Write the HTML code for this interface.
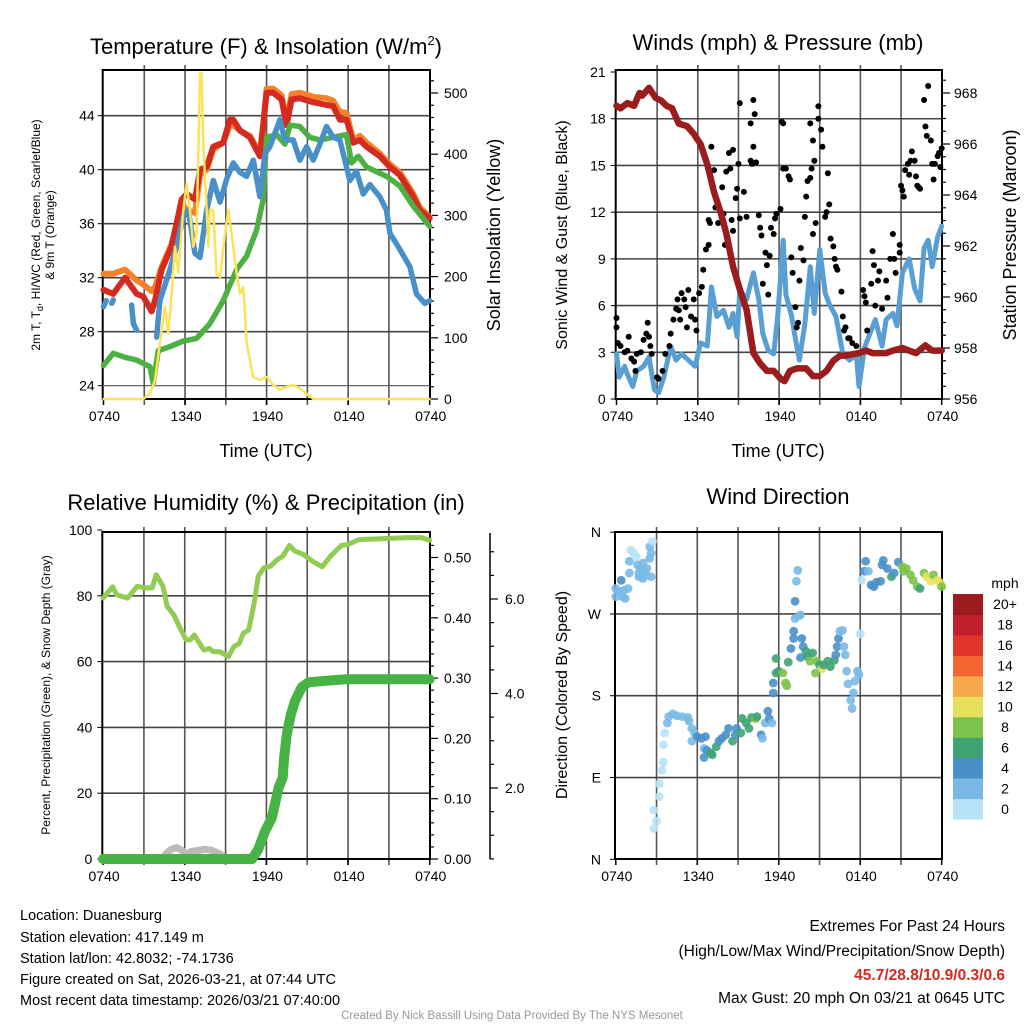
<!DOCTYPE html>
<html><head><meta charset="utf-8"><style>
html,body{margin:0;padding:0;background:#fff}
svg{display:block;font-family:"Liberation Sans",Arial,sans-serif}
</style></head><body>
<svg id="chart" width="1024" height="1024" viewBox="0 0 1024 1024" xmlns="http://www.w3.org/2000/svg">
<rect width="1024" height="1024" fill="#fff"/>
<g id="layer"></g>
<text x="266" y="54" font-size="22" text-anchor="middle">Temperature (F) &amp; Insolation (W/m<tspan font-size="13" dy="-9">2</tspan><tspan dy="9">)</tspan></text>
<text x="778" y="50" font-size="22" text-anchor="middle">Winds (mph) &amp; Pressure (mb)</text>
<text x="266" y="510" font-size="22" text-anchor="middle">Relative Humidity (%) &amp; Precipitation (in)</text>
<text x="778" y="504" font-size="22" text-anchor="middle">Wind Direction</text>
<text x="266" y="457" font-size="18" text-anchor="middle">Time (UTC)</text>
<text x="778" y="457" font-size="18" text-anchor="middle">Time (UTC)</text>
<text transform="translate(40,235) rotate(-90)" font-size="12" text-anchor="middle">2m T, T<tspan font-size="9" dy="3">d</tspan><tspan dy="-3">, HI/WC (Red, Green, Scarlet/Blue)</tspan></text>
<text transform="translate(54,235) rotate(-90)" font-size="12" text-anchor="middle">&amp; 9m T (Orange)</text>
<text transform="translate(500,235) rotate(-90)" font-size="18" text-anchor="middle">Solar Insolation (Yellow)</text>
<text transform="translate(567,235) rotate(-90)" font-size="16" text-anchor="middle">Sonic Wind &amp; Gust (Blue, Black)</text>
<text transform="translate(1016,235) rotate(-90)" font-size="18" text-anchor="middle">Station Pressure (Maroon)</text>
<text transform="translate(50,695) rotate(-90)" font-size="12" text-anchor="middle">Percent, Precipitation (Green), &amp; Snow Depth (Gray)</text>
<text transform="translate(567,695) rotate(-90)" font-size="16" text-anchor="middle">Direction (Colored By Speed)</text>
<g font-size="14.5">
<text x="20" y="920">Location: Duanesburg</text>
<text x="20" y="942">Station elevation: 417.149 m</text>
<text x="20" y="963">Station lat/lon: 42.8032; -74.1736</text>
<text x="20" y="984">Figure created on Sat, 2026-03-21, at 07:44 UTC</text>
<text x="20" y="1005">Most recent data timestamp: 2026/03/21 07:40:00</text>
</g>
<g font-size="15.5" text-anchor="end">
<text x="1005" y="931">Extremes For Past 24 Hours</text>
<text x="1005" y="956">(High/Low/Max Wind/Precipitation/Snow Depth)</text>
<text x="1005" y="980" fill="#d42a20" font-weight="bold">45.7/28.8/10.9/0.3/0.6</text>
<text x="1005" y="1003">Max Gust: 20 mph On 03/21 at 0645 UTC</text>
</g>
<text x="512" y="1019" font-size="11.5" fill="#999" text-anchor="middle">Created By Nick Bassill Using Data Provided By The NYS Mesonet</text>
</svg>
<script>
// ---- Panel 1: temperature ----
const tRedH=[0,0.72,1.58,2.44,2.93,3.54,3.79,4.28,5.01,5.75,6.12,6.73,7.1,7.59,8.08,8.81,9.3,9.55,10.04,10.77,11.51,11.75,12,12.49,13.1,13.47,13.84,14.45,15.43,16.41,16.9,17.39,17.88,18.37,18.86,19.35,20.33,21.07,21.8,22.79,23.27,24];
const tRedV=[31.1,30.8,32.0,30.8,30.6,29.5,30.3,32.6,34.3,37.8,38.2,37.8,40.0,40.2,41.7,42.0,43.7,43.7,42.9,42.4,41.0,43.2,45.7,45.7,45.2,43.3,45.2,45.3,45.0,44.8,44.7,43.7,43.7,42.0,42.2,41.7,41.0,40.2,39.6,38.0,37.0,36.4];
const tOrangeV=[32.3,32.3,32.6,31.8,31.5,31.0,31.3,32.8,34.5,37.5,37.0,36.8,39.6,40.0,41.5,42.0,43.3,43.3,42.9,42.5,41.2,43.4,46.0,46.0,45.5,43.6,45.6,45.7,45.4,45.3,45.1,44.3,44.2,42.2,42.5,42.0,41.2,40.4,39.8,38.2,37.2,36.5];
const tGreenH=[0,0.72,1.58,2.44,3.42,3.66,4.03,4.89,5.87,6.85,7.83,8.81,9.79,10.53,11.26,11.75,12,12.73,13.35,13.72,14.45,15.18,15.92,16.9,17.88,18.25,18.74,19.35,20.82,21.8,22.79,24];
const tGreenV=[25.5,26.4,26.1,25.9,25.4,24.2,26.6,26.9,27.3,27.5,28.6,30.3,32.6,33.6,35.5,37.8,42.4,42.6,41.9,43.3,43.2,42.4,42.2,42.4,42.6,40.5,41.0,40.2,39.5,38.8,37.3,35.8];
const tBlueH=[0,0.2,null,0.6,0.72,null,2.07,2.2,2.44,null,3.91,4.15,4.89,5.38,5.87,6.24,6.73,7.1,7.59,8.08,8.57,9.06,9.55,10.04,10.53,11.02,11.51,11.88,12.24,12.98,13.35,13.96,14.45,14.94,15.43,15.92,16.41,16.9,17.39,18.12,18.61,19.11,19.6,20.33,20.82,21.07,21.8,22.54,23.03,23.64,24];
const tBlueV=[29.85,30.3,null,30.1,30.35,null,29.97,28.6,28.1,null,27.6,30.3,32.6,34.3,36.5,37.0,33.8,33.5,37.0,39.2,37.6,39.3,40.5,39.8,39.5,40.7,38.0,41.2,41.7,43.7,42.2,42.2,40.7,41.7,40.7,41.9,43.2,42.4,42.2,39.2,39.9,38.2,38.9,38.0,37.0,35.3,34.1,32.8,30.8,30.1,30.3];
const solarH=[0,2.93,3.42,3.79,4.15,4.52,4.77,5.01,5.26,5.5,5.87,6.12,6.36,6.61,6.85,7.1,7.22,7.34,7.59,7.71,7.83,8.08,8.32,8.57,8.93,9.18,9.42,9.79,10.04,10.29,10.53,11.02,11.51,12,12.49,12.98,13.47,13.96,14.45,14.94,15.43,24];
const solarV=[0,0,9,31,91,151,107,172,249,206,309,352,309,249,271,532,532,418,309,249,309,309,204,199,269,309,271,206,172,183,91,36,31,36,23,15,20,23,17,9,0,0];
const tempTicks=[24,28,32,36,40,44];
const solarTicks=[0,100,200,300,400,500];
const timeLabels=["0740","1340","1940","0140","0740"];
// ---- Panel 2: winds ----
const windH=[0,0.2,0.6,0.8,1.2,1.5,2.0,2.4,2.8,3.1,3.5,4.0,4.4,4.8,5.3,5.8,6.2,6.7,7.0,7.4,7.9,8.3,8.6,8.9,9.1,9.6,10.1,10.5,10.8,11.2,11.6,11.9,12.3,12.5,12.9,13.3,13.5,13.9,14.3,14.6,15.0,15.4,15.7,16.2,16.7,17.2,17.7,17.9,18.3,18.7,19.1,19.6,19.9,20.4,20.7,21.1,21.6,22.0,22.4,22.7,23.0,23.3,23.7,24.0];
const windV=[2.9,1.4,2.1,1.6,0.8,1.8,2.1,2.7,0.6,0.4,1.4,3.4,2.5,2.9,2.5,2.1,3.6,3.4,7.2,5.3,5.7,4.6,5.5,4.0,7.0,6.4,8.1,6.4,4.2,3.1,2.9,5.3,10.2,6.7,5.4,3.4,2.5,4.8,8.5,5.5,9.6,6.8,6.1,5.3,2.9,2.5,2.9,0.8,3.3,4.2,5.1,3.4,5.1,5.5,4.7,8.1,9.0,7.1,6.3,9.7,10.2,8.5,10.4,11.1];
const gustH=[0,0,0.1,0.3,0.6,0.8,0.9,1.1,1.3,1.4,1.5,1.8,2.0,2.2,2.3,2.4,2.5,2.6,3.0,3.1,3.4,3.6,3.9,4.0,4.2,4.4,4.5,4.6,4.7,4.8,5.0,5.1,5.2,5.3,5.5,5.7,5.8,5.9,6.1,6.3,6.4,6.6,6.8,6.8,6.9,7.0,7.2,7.3,7.5,7.8,7.9,8.0,8.1,8.3,8.4,8.5,8.6,8.6,8.8,8.9,9.0,9.1,9.1,9.4,9.6,9.9,9.9,10.0,10.1,10.1,10.2,10.3,10.5,10.6,10.7,10.8,11.0,11.1,11.2,11.3,11.4,11.6,11.7,11.8,12.1,12.2,12.3,12.3,12.5,12.7,12.8,12.9,13.0,13.2,13.3,13.4,13.5,13.6,13.8,13.9,14.0,14.1,14.3,14.3,14.4,14.5,14.5,14.6,14.7,14.9,14.9,15.1,15.2,15.4,15.5,15.6,15.7,15.8,16.0,16.1,16.2,16.3,16.6,16.7,16.8,16.9,17.1,17.2,17.4,17.7,18.2,18.3,18.4,18.5,18.8,18.9,19.0,19.1,19.3,19.4,19.6,19.9,20.0,20.2,20.4,20.5,20.6,20.9,20.9,21.0,21.1,21.2,21.3,21.5,21.6,21.7,21.8,22.0,22.1,22.2,22.3,22.4,22.7,22.8,22.9,23.0,23.2,23.3,23.4,23.5,23.7,23.8,23.9,24.0];
const gustV=[5.2,4.6,3.6,3.4,3.0,3.1,4.0,2.6,2.4,1.8,2.9,3.0,3.8,4.2,4.9,4.0,3.4,2.9,1.4,1.3,1.8,2.9,3.4,4.2,5.1,5.8,6.4,5.7,5.1,6.8,6.4,5.9,4.6,7.0,5.3,6.4,5.1,4.4,6.8,7.2,8.3,9.6,9.9,11.5,11.3,16.2,14.7,12.3,11.3,13.6,11.9,9.9,14.6,15.8,14.8,11.5,10.8,16.0,12.9,13.5,15.1,19.0,11.6,13.3,11.7,15.3,17.7,15.1,19.2,16.2,18.3,15.2,11.8,11.0,10.5,7.4,9.4,8.6,6.7,9.2,11.0,10.6,11.6,11.9,12.2,17.8,17.7,14.8,14.8,14.3,14.1,9.1,8.1,5.9,4.6,4.9,7.6,9.7,8.9,11.7,13.0,14.0,14.2,17.7,14.8,16.6,10.6,15.3,11.3,18.8,18.0,17.3,16.2,11.7,12.0,14.5,12.5,10.3,9.8,9.0,8.5,8.3,6.9,5.3,4.4,4.6,3.9,3.9,3.6,3.4,7.0,6.6,6.2,4.4,7.4,9.5,8.6,6.0,7.6,8.2,5.8,7.6,6.5,9.0,10.6,9.0,8.1,9.9,9.4,13.7,13.4,13.0,14.7,15.1,14.4,15.3,15.9,15.3,14.3,13.7,13.6,13.5,19.2,17.5,16.9,20.1,16.6,15.1,14.1,15.1,15.6,15.8,14.9,16.1];
const presH=[0,0.3,0.8,1.3,1.7,1.9,2.4,2.9,3.3,3.7,4.1,4.6,5.2,5.7,6.2,6.7,7.2,7.7,8.1,8.6,9.1,9.6,10.1,10.6,11.1,11.6,12.1,12.4,12.8,13.3,14.0,14.5,15.0,15.5,16.0,16.5,16.9,17.9,18.4,18.9,19.9,20.4,21.1,21.6,22.1,22.8,23.3,24.0];
const presV=[967.5,967.4,967.6,967.5,968.0,967.9,968.2,967.8,967.7,967.5,967.4,966.8,966.7,966.4,966.0,965.2,964.1,963.3,962.5,961.2,960.3,959.5,957.8,957.4,957.1,957.1,956.8,956.7,957.1,957.2,957.2,956.9,956.9,957.1,957.5,957.7,957.7,957.8,957.9,957.8,957.8,957.9,958.0,957.9,957.8,958.1,957.9,957.9];
const windTicks=[0,3,6,9,12,15,18,21];
const presTicks=[956,958,960,962,964,966,968];
// ---- Panel 3: humidity / precip / snow ----
const rhH=[0,0.3,0.7,1.0,1.8,2.5,3.1,3.6,3.9,4.4,4.7,5.2,5.6,6.1,6.4,6.7,7.0,7.4,7.8,8.1,8.6,9.2,9.6,10.0,10.3,10.7,11.1,11.4,11.8,12.3,12.8,13.2,13.7,14.1,14.7,15.4,16.1,16.7,17.5,18.0,18.8,20.2,22.4,23.4,24.0];
const rhV=[79.3,80.8,82.7,80.3,79.3,82.9,82.4,82.4,86.4,82.9,76.8,74.2,70.6,66.6,66.6,68.1,66.1,63.5,64.0,63.0,63.0,61.5,64.5,65.5,68.6,69.6,77.8,85.9,88.5,89.0,91.0,92.0,95.3,93.6,92.6,90.5,88.8,92.0,95.3,95.6,97.1,97.3,97.7,97.7,96.9];
const precipH=[0,10.95,11.4,11.9,12.4,12.9,13.2,13.3,13.5,13.8,14.1,14.6,15.1,16.6,17.8,24.0];
const precipV=[0,0,0.016,0.046,0.068,0.118,0.135,0.168,0.207,0.24,0.262,0.285,0.293,0.296,0.298,0.298];
const snowH=[4.5,4.7,5.0,5.4,5.8,6.1,6.5,7.0,7.5,8.0,8.6,8.8];
const snowV=[0.5,0.63,0.7,0.74,0.68,0.6,0.66,0.68,0.7,0.68,0.6,0.5];
const rhTicks=[0,20,40,60,80,100];
const precipTicks=[0,0.1,0.2,0.3,0.4,0.5];
const snowTicks=[2,4,6];
// ---- Panel 4: wind direction ----
const dirH=[0,0,0.2,0.4,0.5,0.6,0.7,0.9,1.0,1.0,1.1,1.3,1.5,1.6,1.7,1.8,2.0,2.1,2.2,2.3,2.5,2.5,2.6,2.6,2.7,1.7,2.0,
2.8,3.0,2.8,3.2,3.2,3.4,3.5,3.5,3.6,3.8,3.9,4.2,4.5,4.9,5.3,5.4,5.6,5.8,5.6,6.0,6.3,6.5,6.6,6.5,6.7,7.0,7.1,7.4,7.6,7.8,8.1,8.3,8.6,8.8,8.9,9.2,9.3,9.6,9.8,10.0,10.3,10.4,10.7,10.8,11.0,11.2,11.3,11.5,11.6,11.6,11.8,11.8,12.0,12.3,12.5,12.6,12.7,12.9,13.1,13.1,13.2,13.2,13.3,13.4,13.5,13.6,13.7,13.8,13.6,14.0,14.1,14.3,14.5,14.7,14.8,15.0,15.2,15.3,15.6,15.8,16.1,16.2,16.3,16.4,16.5,16.7,16.8,16.9,17.0,17.1,17.3,17.4,17.5,17.6,17.8,17.9,18.0,18.1,18.3,18.4,18.6,18.8,19.0,19.2,19.5,19.6,19.7,20.0,20.3,20.5,20.8,21.1,21.2,21.4,21.7,21.9,22.2,22.4,22.7,22.9,23.2,23.4,23.7,23.9,24.0];
const dirV=[289,298,295,307,289,296,287,298,315,328,340,337,333,324,311,320,326,317,313,320,331,344,337,311,350,315,309,
34,42,54,69,83,98,107,126,139,150,157,160,158,157,156,152,144,139,130,135,133,122,135,112,120,117,115,124,130,133,137,144,130,137,144,139,155,150,144,156,155,157,137,133,150,163,155,150,183,194,205,221,207,205,194,191,217,232,251,243,265,284,306,318,268,269,243,234,222,229,223,218,227,205,218,214,210,214,218,212,219,225,234,243,251,252,234,225,207,193,175,166,183,196,207,203,248,307,317,328,317,302,300,305,306,324,329,320,311,315,327,322,317,320,313,307,300,298,315,311,306,313,307,304,300];
const dirSpeed=[3,3,3,4,3,3,3,3,3,3,1,1,1,3,3,3,3,3,3,3,3,3,3,3,1,3,3,
1,1,1,1,1,1,1,1,1,2,2,2,2,2,2,2,2,2,3,4,4,3,4,4,4,6,6,6,4,4,4,4,6,4,4,6,6,6,6,6,8,6,4,3,3,4,4,3,4,4,6,6,6,9,8,8,6,4,4,4,2,4,2,2,2,2,4,4,4,6,6,8,6,8,8,6,10,6,6,6,6,4,4,4,3,2,3,3,3,3,3,3,3,3,3,3,1,1,4,4,2,4,4,4,4,4,4,4,6,4,4,8,8,8,8,8,8,6,8,10,10,8,10,10,8];
const dirLabels=["N","E","S","W","N"];
const dirTicks=[0,90,180,270,360];
const speedBins=["0","2","4","6","8","10","12","14","16","18","20+"];
const speedColors=["#b8e2f8","#7ab9e6","#4a90c8","#3fa373","#7dc24a","#e8e05a","#f8a84a","#f26430","#e0352b","#c0202a","#9b1b1e"];

const NS="http://www.w3.org/2000/svg";
const layer=document.getElementById('layer');
function mk(tag,attrs,parent){const e=document.createElementNS(NS,tag);for(const k in attrs)e.setAttribute(k,attrs[k]);(parent||layer).appendChild(e);return e;}
function txt(x,y,s,size,anchor,parent){const t=mk('text',{x:x,y:y,'font-size':size,'text-anchor':anchor},parent);t.textContent=s;return t;}
function pathD(hs,vs,X,Y){let d='',pen=false;for(let i=0;i<hs.length;i++){if(hs[i]===null||vs[i]===null){pen=false;continue;}d+=(pen?'L':'M')+X(hs[i]).toFixed(1)+' '+Y(vs[i]).toFixed(1)+' ';pen=true;}return d;}

const panels=[
 {x0:102.7,x1:430,y0:70,y1:399,name:'temp'},
 {x0:615.7,x1:942,y0:70,y1:399,name:'wind'},
 {x0:102.3,x1:430,y0:532,y1:859,name:'humidity'},
 {x0:615,x1:942,y0:532,y1:859,name:'direction'}];
function timeX(p){const a=p.x0+0.8,b=p.x1-0.3;return h=>a+(b-a)*h/24;}
function frame(p,yTickYs){
 const g=mk('g',{});
 
 
 const X=timeX(p);
 for(let h=3;h<24;h+=3){mk('line',{x1:X(h),x2:X(h),y1:p.y0-5,y2:p.y1+6,stroke:'#555','stroke-width':1.6},g);}
 yTickYs.forEach(y=>mk('line',{x1:p.x0,x2:p.x1,y1:y,y2:y,stroke:'#444','stroke-width':1.6},g));
 mk('rect',{x:p.x0,y:p.y0,width:p.x1-p.x0,height:p.y1-p.y0,fill:'none',stroke:'#000','stroke-width':2},g);
 const lg=mk('g',{});
 
 
 timeLabels.forEach((s,i)=>{txt(X(i*6)+1,p.y1+22,s,14,'middle',lg);mk('line',{x1:X(i*6),x2:X(i*6),y1:p.y1,y2:p.y1+6,stroke:'#000','stroke-width':1.5},g);});
 return X;
}
function line(d,color,w,name){
 const s=mk('path',{d:d,fill:'none',stroke:color,'stroke-width':w,'stroke-linejoin':'round','stroke-linecap':'round'});
 
 
 return s;
}
// Panel 1
(function(){
 const p=panels[0];
 const Y=v=>385.7-(v-24)*13.5, YS=s=>399-s*0.612;
 const X=frame(p,tempTicks.filter(v=>v>24).map(Y));
 mk('line',{x1:p.x0,x2:p.x1,y1:Y(24),y2:Y(24),stroke:'#555','stroke-width':1.2});
 tempTicks.forEach(v=>{txt(p.x0-8,Y(v)+5,String(v),14,'end');mk('line',{x1:p.x0-5,x2:p.x0,y1:Y(v),y2:Y(v),stroke:'#000'});});
 solarTicks.forEach(v=>txt(p.x1+14,YS(v)+5,String(v),14,'start'));
 for(let s=0;s<=530;s+=20)mk('line',{x1:p.x1,x2:p.x1+(s%100===0?8:4),y1:YS(s),y2:YS(s),stroke:'#000','stroke-width':1.2});
 line(pathD(tRedH,tOrangeV,X,Y),'#f5822a',6,'series-9m-temp-orange');
 line(pathD(tRedH,tRedV,X,Y),'#d42a20',6,'series-2m-temp-red');
 line(pathD(tGreenH,tGreenV,X,Y),'#4cb043',5.5,'series-dewpoint-green');
 line(pathD(tBlueH,tBlueV,X,Y),'#4a90c8',5.5,'series-windchill-blue');
 line(pathD(solarH,solarV,X,YS),'#fde35a',2.5,'series-insolation-yellow');
})();
// Panel 2
(function(){
 const p=panels[1];
 const Y=w=>399-w*15.57, YP=v=>399-(v-956)*25.5;
 const X=frame(p,windTicks.filter(v=>v>0&&v<21).map(Y));
 windTicks.forEach(v=>{txt(p.x0-10,Y(v)+5,String(v),14,'end');mk('line',{x1:p.x0-5,x2:p.x0,y1:Y(v),y2:Y(v),stroke:'#000'});});
 presTicks.forEach(v=>txt(p.x1+12,YP(v)+5,String(v),14,'start'));
 for(let v=956;v<=968.6;v+=0.5)mk('line',{x1:p.x1,x2:p.x1+(Math.abs(v-Math.round(v/2)*2)<0.01?8:4),y1:YP(v),y2:YP(v),stroke:'#000','stroke-width':1.2});
 line(pathD(windH,windV,X,Y),'#5a9fd4',5,'series-sonic-wind-blue');
 const gg=mk('g',{fill:'#000'});
 
 
 gustH.forEach((h,i)=>{const c=mk('circle',{cx:X(h),cy:Y(gustV[i]),r:3},gg);
  
  });
 line(pathD(presH,presV,X,YP),'#9a1c1c',6.5,'series-pressure-maroon');
})();
// Panel 3
(function(){
 const p=panels[2];
 const Y=v=>859-v*3.29, YP=v=>859-v*603, YS=v=>882.5-v*47.25;
 const X=frame(p,rhTicks.filter(v=>v>0&&v<100).map(Y));
 rhTicks.forEach(v=>{txt(p.x0-10,Y(v)+5,String(v),14,'end');mk('line',{x1:p.x0-5,x2:p.x0,y1:Y(v),y2:Y(v),stroke:'#000'});});
 precipTicks.forEach(v=>txt(p.x1+14,YP(v)+5,v.toFixed(2),14,'start'));
 for(let v=0;v<=0.54;v+=0.02)mk('line',{x1:p.x1,x2:p.x1+(Math.abs(v*10-Math.round(v*10))<0.01?8:4),y1:YP(v),y2:YP(v),stroke:'#000','stroke-width':1.2});
 mk('line',{x1:490,x2:490,y1:533,y2:859,stroke:'#000','stroke-width':1.5});
 for(let v=0.5;v<=7;v+=0.5){if(YS(v)<533)break;mk('line',{x1:490,x2:490+(v%2===0?8:4),y1:YS(v),y2:YS(v),stroke:'#000','stroke-width':1.2});}
 snowTicks.forEach(v=>txt(505,YS(v)+5,v.toFixed(1),14,'start'));
 line(pathD(snowH,snowV,X,v=>Math.min(YS(v),856)),'#bbb',7,'series-snow-depth-gray');
 line(pathD(rhH,rhV,X,Y),'#92cc55',5,'series-relative-humidity');
 line(pathD(precipH,precipV,X,YP),'#48b345',10,'series-precipitation');
})();
// Panel 4
(function(){
 const p=panels[3];
 const Y=d=>859.3-d*0.9087;
 const X=frame(p,dirTicks.filter(v=>v>0&&v<360).map(Y));
 dirTicks.forEach((v,i)=>{txt(p.x0-14,Y(v)+5,dirLabels[i],14,'end');mk('line',{x1:p.x0-5,x2:p.x0,y1:Y(v),y2:Y(v),stroke:'#000'});});
 const g=mk('g',{'fill-opacity':0.9});
 
 
 dirH.forEach((h,i)=>{const idx=Math.min(10,Math.floor(dirSpeed[i]/2));
  const c=mk('circle',{cx:X(h),cy:Y(dirV[i]),r:4.4,fill:speedColors[idx]},g);
  
  });
 const cb=mk('g',{});
 
 
 txt(1005,588,'mph',14,'middle',cb);
 const h=225/11;
 speedBins.forEach((s,i)=>{const y=819-(i+1)*h;
  const r=mk('rect',{x:953,y:y,width:30,height:h+0.5,fill:speedColors[i]},cb);
  
  
  txt(1005,y+h/2+5,s,14,'middle',cb);});
})();
</script>
</body></html>
